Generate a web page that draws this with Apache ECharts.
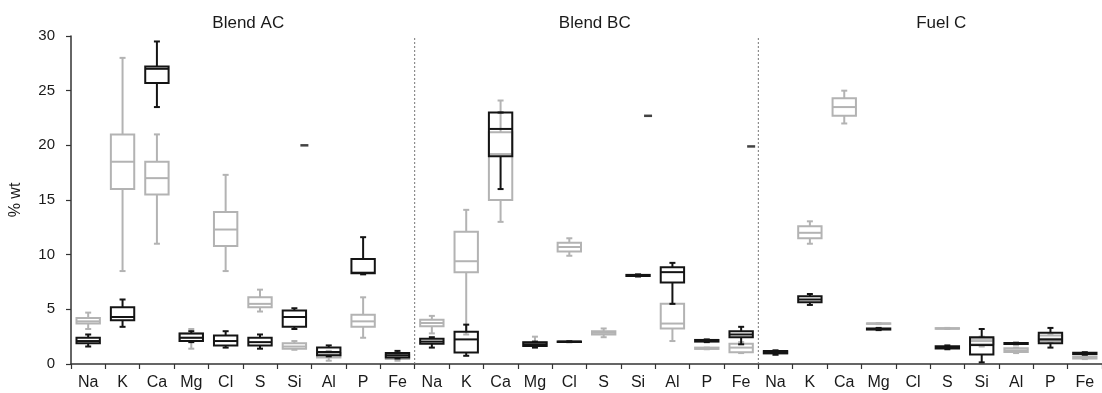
<!DOCTYPE html>
<html>
<head>
<meta charset="utf-8">
<script src="https://cdn.jsdelivr.net/npm/echarts@6/dist/echarts.min.js"></script>
<style>html,body{margin:0;padding:0;background:#fff;}#c{width:1102px;height:393px;}</style>
</head>
<body>
<div id="c"></div>
<script>
const elements = ['Na','K','Ca','Mg','Cl','S','Si','Al','P','Fe'];
const panels = ['Blend AC','Blend BC','Fuel C'];
const yTicks = [0, 5, 10, 15, 20, 25, 30];

// each box: [min, Q1, median, Q3, max] in % wt; null = no box
const acGrey = [
  [3.2, 3.7, 3.9, 4.2, 4.7],
  [8.5, 16.0, 18.5, 21.0, 28.0],
  [11.0, 15.5, 17.0, 18.5, 21.0],
  [1.4, 2.1, 2.4, 2.8, 3.2],
  [8.5, 10.8, 12.3, 13.9, 17.3],
  [4.8, 5.2, 5.5, 6.1, 6.8],
  [1.3, 1.4, 1.6, 1.9, 2.1],
  [0.3, 0.6, 0.8, 1.0, 1.2],
  [2.4, 3.4, 3.9, 4.5, 6.1],
  [0.3, 0.45, 0.6, 0.8, 0.9]
];
const acBlack = [
  [1.6, 1.9, 2.1, 2.4, 2.7],
  [3.4, 4.0, 4.3, 5.2, 5.9],
  [23.5, 25.7, 27.0, 27.2, 29.5],
  [2.0, 2.1, 2.4, 2.8, 3.0],
  [1.5, 1.7, 2.1, 2.6, 3.0],
  [1.4, 1.7, 2.0, 2.4, 2.7],
  [3.2, 3.4, 4.3, 4.9, 5.1],
  [0.7, 0.8, 1.1, 1.5, 1.7],
  [8.2, 8.3, 8.35, 9.6, 11.6],
  [0.5, 0.6, 0.8, 1.0, 1.2]
];
const bcGrey = [
  [2.8, 3.45, 3.75, 4.05, 4.4],
  [2.7, 8.4, 9.4, 12.1, 14.1],
  [13.0, 15.0, 19.2, 21.2, 24.1],
  [1.6, 1.7, 1.8, 2.0, 2.5],
  [9.9, 10.3, 10.7, 11.1, 11.5],
  [2.45, 2.7, 2.85, 3.0, 3.25],
  null,
  [2.1, 3.25, 3.7, 5.5, 5.5],
  [1.35, 1.38, 1.43, 1.5, 1.5],
  [1.0, 1.07, 1.5, 1.85, 2.0]
];
const bcBlack = [
  [1.5, 1.85, 2.05, 2.3, 2.45],
  [0.75, 1.05, 2.25, 2.95, 3.6],
  [16.0, 19.0, 21.5, 23.0, 23.0],
  [1.5, 1.65, 1.8, 2.0, 2.05],
  [2.0, 2.02, 2.04, 2.06, 2.08],
  null,
  [8.0, 8.05, 8.1, 8.15, 8.2],
  [5.5, 7.45, 8.4, 8.85, 9.25],
  [2.0, 2.05, 2.12, 2.2, 2.25],
  [1.8, 2.45, 2.7, 3.0, 3.4]
];
const fcGrey = [
  [0.85, 0.95, 1.0, 1.1, 1.2],
  [11.0, 11.5, 12.0, 12.6, 13.05],
  [22.0, 22.7, 23.5, 24.3, 25.0],
  [3.65, 3.68, 3.7, 3.72, 3.75],
  null,
  [3.2, 3.22, 3.25, 3.28, 3.3],
  [1.6, 1.8, 2.1, 2.3, 2.5],
  [1.0, 1.1, 1.25, 1.45, 1.5],
  [2.0, 2.1, 2.3, 2.6, 2.7],
  [0.45, 0.5, 0.58, 0.65, 0.7]
];
const fcBlack = [
  [0.85, 0.98, 1.1, 1.2, 1.25],
  [5.4, 5.65, 5.9, 6.2, 6.4],
  null,
  [3.1, 3.15, 3.2, 3.25, 3.3],
  null,
  [1.35, 1.42, 1.52, 1.62, 1.7],
  [0.15, 0.88, 1.73, 2.44, 3.2],
  [1.8, 1.83, 1.88, 1.92, 1.95],
  [1.5, 1.9, 2.25, 2.86, 3.3],
  [0.85, 0.9, 0.97, 1.03, 1.08]
];
// single outlying values shown as dashes (black series)
const outlierPanels = ['Blend AC', 'Blend BC', 'Blend BC'];
const outlierElements = ['Si', 'Si', 'Fe'];
const outlierValues = [20.0, 22.7, 19.9];

// panel separators on a 0..30 scale of category slots
const separatorSlots = [10, 20];
const panelCentreSlots = [5, 15, 25];

const categories = [];
panels.forEach(p => elements.forEach(e => categories.push(p + '|' + e)));

function toItems(groups) {
  const items = [];
  let idx = 0;
  groups.forEach(g => g.forEach(b => { if (b) items.push([idx].concat(b)); idx++; }));
  return items;
}
const greyItems = toItems([acGrey, bcGrey, fcGrey]);
const blackItems = toItems([acBlack, bcBlack, fcBlack]);
const outlierItems = outlierPanels.map((p, k) => [p + '|' + outlierElements[k], outlierValues[k]]);

function boxRenderer(color, lw) {
  return function (params, api) {
    const i = api.value(0);
    const v = [1, 2, 3, 4, 5].map(k => api.value(k));
    const x = api.coord([i, 0])[0];
    const y = v.map(val => api.coord([i, val])[1]);
    const bw = api.size([1, 0])[0] * 0.68;
    const cap = 3;
    const st = { stroke: color, lineWidth: lw, fill: null };
    const line = (x1, y1, x2, y2) => ({ type: 'line', shape: { x1, y1, x2, y2 }, style: st });
    return {
      type: 'group',
      children: [
        line(x, y[3], x, y[4]),
        line(x, y[1], x, y[0]),
        line(x - cap, y[4], x + cap, y[4]),
        line(x - cap, y[0], x + cap, y[0]),
        { type: 'rect', shape: { x: x - bw / 2, y: y[3], width: bw, height: Math.max(y[1] - y[3], 0.5) }, style: st },
        line(x - bw / 2, y[2], x + bw / 2, y[2])
      ]
    };
  };
}

const chart = echarts.init(document.getElementById('c'), null, { renderer: 'canvas' });
const gridLeft = 70, slotW = 34.65;
const FONT = 'Liberation Sans, Arial, sans-serif';

chart.setOption({
  animation: false,
  backgroundColor: '#fff',
  title: panels.map((p, k) => ({
    text: p,
    left: gridLeft + panelCentreSlots[k] * slotW,
    top: 10,
    textAlign: 'center',
    textStyle: { fontFamily: FONT, fontSize: 17, fontWeight: 'normal', color: '#1a1a1a' }
  })),
  grid: { left: gridLeft, top: 36, width: slotW * 30, height: 328 },
  xAxis: [
    {
      type: 'category',
      data: categories,
      boundaryGap: true,
      axisLine: { lineStyle: { color: '#333', width: 1.5 } },
      axisTick: { show: true, interval: 0, length: 5, lineStyle: { color: '#333', width: 1.2 } },
      axisLabel: {
        interval: 0, margin: 11, color: '#1a1a1a', fontFamily: FONT, fontSize: 16,
        formatter: v => v.split('|')[1]
      },
      splitLine: { show: false }
    },
    { type: 'value', min: 0, max: 30, show: false }
  ],
  yAxis: {
    type: 'value',
    min: yTicks[0], max: yTicks[yTicks.length - 1], interval: 5,
    name: '% wt',
    nameLocation: 'middle',
    nameGap: 47,
    nameTextStyle: { fontFamily: FONT, fontSize: 16, color: '#1a1a1a' },
    axisLine: { show: true, lineStyle: { color: '#333', width: 1.5 } },
    axisTick: { show: true, length: 5, lineStyle: { color: '#333', width: 1.2 } },
    axisLabel: { margin: 16, color: '#1a1a1a', fontFamily: FONT, fontSize: 15 },
    splitLine: { show: false }
  },
  series: [
    {
      type: 'custom',
      xAxisIndex: 1,
      data: separatorSlots.map(s => [s]),
      encode: { x: 0 },
      renderItem: function (params, api) {
        const s = api.value(0);
        const p0 = api.coord([s, 0]);
        const p1 = api.coord([s, 30]);
        return { type: 'line', shape: { x1: p0[0], y1: p0[1], x2: p1[0], y2: p1[1] },
          style: { stroke: '#777', lineWidth: 1, lineDash: [2, 2] } };
      },
      silent: true
    },
    {
      type: 'custom',
      name: 'grey',
      data: greyItems,
      encode: { x: 0, y: [1, 2, 3, 4, 5] },
      renderItem: boxRenderer('#b3b3b3', 2),
      z: 2
    },
    {
      type: 'custom',
      name: 'black',
      data: blackItems,
      encode: { x: 0, y: [1, 2, 3, 4, 5] },
      renderItem: boxRenderer('#141414', 2),
      z: 3
    },
    {
      type: 'scatter',
      data: outlierItems,
      symbol: 'rect',
      symbolSize: [8, 2.5],
      symbolOffset: [10, 0],
      itemStyle: { color: '#141414' },
      z: 4
    }
  ]
});
</script>
</body>
</html>
